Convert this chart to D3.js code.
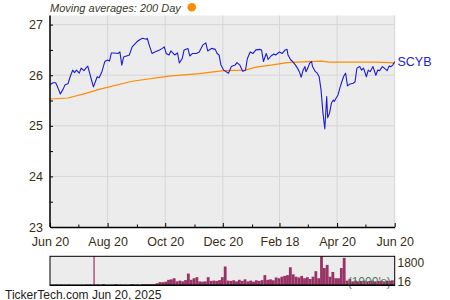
<!DOCTYPE html>
<html>
<head>
<meta charset="utf-8">
<script src="https://cdn.jsdelivr.net/npm/d3@7"></script>
<style>
  body { margin: 0; background: #fff; }
  svg { display: block; font-family: "Liberation Sans", Arial, sans-serif; }
</style>
</head>
<body>
<svg id="chart" width="450" height="300"></svg>
<script>
// price (blue line)
const priceData = [
  ["2024-06-20", 25.81], ["2024-06-23", 25.85], ["2024-06-26", 25.85], ["2024-06-28", 25.77],
  ["2024-07-01", 25.63], ["2024-07-04", 25.73], ["2024-07-06", 25.81], ["2024-07-09", 25.83],
  ["2024-07-11", 25.95], ["2024-07-14", 26.10], ["2024-07-16", 26.05], ["2024-07-18", 26.10],
  ["2024-07-21", 26.04], ["2024-07-23", 26.14], ["2024-07-26", 26.09], ["2024-07-28", 26.14],
  ["2024-07-30", 26.18], ["2024-08-01", 26.04], ["2024-08-03", 25.90], ["2024-08-05", 25.77],
  ["2024-08-07", 25.87], ["2024-08-09", 25.97], ["2024-08-11", 25.95], ["2024-08-14", 26.07],
  ["2024-08-17", 26.27], ["2024-08-20", 26.30], ["2024-08-22", 26.28], ["2024-08-24", 26.44],
  ["2024-08-27", 26.44], ["2024-08-31", 26.43], ["2024-09-02", 26.46], ["2024-09-04", 26.20],
  ["2024-09-06", 26.36], ["2024-09-09", 26.38], ["2024-09-12", 26.40], ["2024-09-15", 26.56],
  ["2024-09-20", 26.66], ["2024-09-23", 26.70], ["2024-09-26", 26.73], ["2024-09-30", 26.71],
  ["2024-10-01", 26.73], ["2024-10-03", 26.60], ["2024-10-06", 26.43], ["2024-10-09", 26.46],
  ["2024-10-14", 26.50], ["2024-10-17", 26.53], ["2024-10-19", 26.56], ["2024-10-21", 26.43],
  ["2024-10-24", 26.40], ["2024-10-26", 26.48], ["2024-10-30", 26.40], ["2024-11-02", 26.44],
  ["2024-11-04", 26.24], ["2024-11-07", 26.33], ["2024-11-09", 26.50], ["2024-11-13", 26.53],
  ["2024-11-15", 26.38], ["2024-11-18", 26.43], ["2024-11-22", 26.43], ["2024-11-25", 26.46],
  ["2024-11-29", 26.60], ["2024-12-02", 26.64], ["2024-12-04", 26.48], ["2024-12-08", 26.53],
  ["2024-12-12", 26.51], ["2024-12-14", 26.43], ["2024-12-16", 26.40], ["2024-12-18", 26.20],
  ["2024-12-21", 26.10], ["2024-12-26", 26.04], ["2024-12-29", 26.17], ["2025-01-02", 26.20],
  ["2025-01-04", 26.25], ["2025-01-07", 26.20], ["2025-01-10", 26.08], ["2025-01-13", 26.10],
  ["2025-01-15", 26.33], ["2025-01-18", 26.46], ["2025-01-21", 26.43], ["2025-01-24", 26.50],
  ["2025-01-28", 26.51], ["2025-01-30", 26.50], ["2025-02-01", 26.27], ["2025-02-04", 26.43],
  ["2025-02-06", 26.31], ["2025-02-09", 26.38], ["2025-02-12", 26.42], ["2025-02-14", 26.40],
  ["2025-02-18", 26.46], ["2025-02-21", 26.43], ["2025-02-24", 26.50], ["2025-02-26", 26.51],
  ["2025-02-27", 26.40], ["2025-03-02", 26.30], ["2025-03-04", 26.27], ["2025-03-07", 26.20],
  ["2025-03-09", 26.14], ["2025-03-11", 26.07], ["2025-03-13", 25.96], ["2025-03-15", 26.10],
  ["2025-03-17", 26.17], ["2025-03-18", 26.07], ["2025-03-20", 26.14], ["2025-03-22", 26.24],
  ["2025-03-24", 26.27], ["2025-03-25", 26.17], ["2025-03-28", 26.07], ["2025-03-30", 26.04],
  ["2025-04-01", 25.97], ["2025-04-03", 25.71], ["2025-04-05", 25.26], ["2025-04-07", 24.94],
  ["2025-04-09", 25.58], ["2025-04-10", 25.16], ["2025-04-12", 25.25], ["2025-04-14", 25.45],
  ["2025-04-16", 25.51], ["2025-04-17", 25.48], ["2025-04-19", 25.55], ["2025-04-21", 25.61],
  ["2025-04-23", 25.75], ["2025-04-25", 25.87], ["2025-04-27", 25.98], ["2025-04-29", 26.04],
  ["2025-05-01", 25.79], ["2025-05-03", 25.82], ["2025-05-07", 25.84], ["2025-05-09", 25.87],
  ["2025-05-11", 26.14], ["2025-05-14", 26.17], ["2025-05-16", 26.10], ["2025-05-18", 26.14],
  ["2025-05-21", 25.97], ["2025-05-23", 26.10], ["2025-05-25", 26.07], ["2025-05-28", 26.17],
  ["2025-05-31", 26.00], ["2025-06-02", 26.10], ["2025-06-04", 26.09], ["2025-06-07", 26.17],
  ["2025-06-09", 26.14], ["2025-06-12", 26.09], ["2025-06-14", 26.18], ["2025-06-16", 26.17],
  ["2025-06-18", 26.20], ["2025-06-20", 26.27]
];

// 200 day moving average (orange line)
const maData = [
  ["2024-06-20", 25.53], ["2024-07-09", 25.55], ["2024-07-28", 25.64], ["2024-08-11", 25.72],
  ["2024-09-15", 25.88], ["2024-10-24", 25.98], ["2024-11-25", 26.03], ["2024-12-21", 26.09],
  ["2025-01-13", 26.10], ["2025-01-24", 26.16], ["2025-02-09", 26.20], ["2025-02-26", 26.25],
  ["2025-03-09", 26.26], ["2025-04-03", 26.28], ["2025-04-12", 26.26], ["2025-05-31", 26.26],
  ["2025-06-16", 26.25], ["2025-06-20", 26.23]
];

// volume in 1000's
const volumeData = [
  ["2024-06-26", 60], ["2024-07-01", 60], ["2024-07-09", 60], ["2024-07-28", 60],
  ["2024-08-01", 60], ["2024-08-05", 1900], ["2024-08-09", 60], ["2024-08-14", 60],
  ["2024-08-16", 60], ["2024-08-27", 60], ["2024-08-29", 60], ["2024-09-02", 60],
  ["2024-09-13", 60], ["2024-09-16", 60], ["2024-09-20", 60],
  ["2024-09-25", 60], ["2024-09-28", 60], ["2024-10-01", 60], ["2024-10-04", 60],
  ["2024-10-07", 70], ["2024-10-10", 130], ["2024-10-13", 200], ["2024-10-16", 200],
  ["2024-10-19", 230], ["2024-10-22", 350], ["2024-10-25", 380], ["2024-10-28", 450],
  ["2024-10-31", 250], ["2024-11-03", 300], ["2024-11-06", 250], ["2024-11-09", 330],
  ["2024-11-12", 750], ["2024-11-15", 350], ["2024-11-18", 450], ["2024-11-21", 520],
  ["2024-11-24", 250], ["2024-11-27", 230], ["2024-11-30", 250], ["2024-12-03", 520],
  ["2024-12-06", 280], ["2024-12-09", 300], ["2024-12-12", 280], ["2024-12-15", 330],
  ["2024-12-18", 520], ["2024-12-21", 1200], ["2024-12-24", 300], ["2024-12-27", 280],
  ["2024-12-30", 320], ["2025-01-02", 250], ["2025-01-05", 350], ["2025-01-08", 280],
  ["2025-01-11", 380], ["2025-01-14", 250], ["2025-01-17", 300], ["2025-01-20", 230],
  ["2025-01-23", 320], ["2025-01-26", 280], ["2025-01-29", 330], ["2025-02-01", 650],
  ["2025-02-04", 350], ["2025-02-07", 380], ["2025-02-10", 320], ["2025-02-13", 500],
  ["2025-02-16", 450], ["2025-02-19", 550], ["2025-02-22", 600], ["2025-02-25", 650],
  ["2025-02-28", 1150], ["2025-03-03", 700], ["2025-03-06", 550], ["2025-03-09", 500],
  ["2025-03-12", 600], ["2025-03-15", 450], ["2025-03-18", 520], ["2025-03-21", 400],
  ["2025-03-24", 550], ["2025-03-27", 900], ["2025-03-30", 450], ["2025-04-02", 1900],
  ["2025-04-05", 1100], ["2025-04-08", 1300], ["2025-04-11", 550], ["2025-04-14", 850],
  ["2025-04-17", 450], ["2025-04-20", 450], ["2025-04-23", 1100], ["2025-04-26", 1750],
  ["2025-04-29", 300], ["2025-05-02", 400], ["2025-05-05", 250], ["2025-05-08", 300],
  ["2025-05-11", 250], ["2025-05-14", 280], ["2025-05-17", 300], ["2025-05-20", 250],
  ["2025-05-23", 280], ["2025-05-26", 300], ["2025-05-29", 250], ["2025-06-01", 280],
  ["2025-06-04", 300], ["2025-06-07", 250], ["2025-06-10", 300], ["2025-06-13", 280],
  ["2025-06-16", 320]
];

const xTickDates = ["2024-06-20", "2024-08-20", "2024-10-20", "2024-12-20", "2025-02-18", "2025-04-20", "2025-06-20"];
const xTickLabels = ["Jun 20", "Aug 20", "Oct 20", "Dec 20", "Feb 18", "Apr 20", "Jun 20"];
const xMinorDates = ["2024-07-20", "2024-09-20", "2024-11-20", "2025-01-20", "2025-03-20", "2025-05-20"];
const yTicks = [23, 24, 25, 26, 27];
const yMinorTicks = [23.5, 24.5, 25.5, 26.5];
const volumeLabels = ["1800", "16"];

const parse = d3.timeParse("%Y-%m-%d");
const svg = d3.select("#chart");

// main plot area
const plotLeft = 50, plotRight = 394.7, plotTop = 15.5, plotBottom = 227;
const x = d3.scaleTime()
  .domain([parse("2024-06-20"), parse("2025-06-20")])
  .range([plotLeft, plotRight]);
const y = d3.scaleLinear()
  .domain([23, 27.18])
  .range([plotBottom, plotTop]);

const tickColor = "#3a2e14";

svg.append("rect")
  .attr("x", plotLeft).attr("y", plotTop)
  .attr("width", plotRight - plotLeft).attr("height", plotBottom - plotTop)
  .attr("fill", "#ececec");

// gridlines
svg.append("g").selectAll("line")
  .data(xTickDates.map(parse))
  .enter().append("line")
  .attr("x1", d => x(d)).attr("x2", d => x(d))
  .attr("y1", plotTop).attr("y2", plotBottom)
  .attr("stroke", "#d6d6d6").attr("stroke-width", 1);

svg.append("g").selectAll("line")
  .data(yTicks.slice(1))
  .enter().append("line")
  .attr("x1", plotLeft).attr("x2", plotRight)
  .attr("y1", d => y(d)).attr("y2", d => y(d))
  .attr("stroke", "#d6d6d6").attr("stroke-width", 1);

// lines
const line = d3.line()
  .x(d => x(parse(d[0])))
  .y(d => y(d[1]));

svg.append("path")
  .datum(maData)
  .attr("d", line)
  .attr("fill", "none")
  .attr("stroke", "#ff8c00")
  .attr("stroke-width", 1.2);

svg.append("path")
  .datum(priceData)
  .attr("d", line)
  .attr("fill", "none")
  .attr("stroke", "#1c1cd6")
  .attr("stroke-width", 1.1)
  .attr("stroke-linejoin", "round");

// x axis (ticks pointing up into the plot)
svg.append("g")
  .attr("transform", `translate(0,${plotBottom})`)
  .call(d3.axisBottom(x)
    .tickValues(xTickDates.map(parse))
    .tickFormat((d, i) => xTickLabels[i])
    .tickSize(-4).tickSizeOuter(0).tickPadding(10));

svg.append("g")
  .attr("transform", `translate(0,${plotBottom})`)
  .call(d3.axisBottom(x)
    .tickValues(xMinorDates.map(parse))
    .tickFormat("")
    .tickSize(-2.5).tickSizeOuter(0))
  .select(".domain").remove();

// y axis
const yAxis = svg.append("g")
  .attr("transform", `translate(${plotLeft},0)`)
  .call(d3.axisLeft(y)
    .tickValues(yTicks)
    .tickFormat(d3.format("d"))
    .tickSize(-3).tickSizeOuter(0).tickPadding(7));

svg.append("g")
  .attr("transform", `translate(${plotLeft},0)`)
  .call(d3.axisLeft(y)
    .tickValues(yMinorTicks)
    .tickFormat("")
    .tickSize(-3).tickSizeOuter(0))
  .select(".domain").remove();

svg.selectAll(".tick line").attr("stroke", "#000");
svg.selectAll(".domain").attr("stroke", "#000").attr("stroke-width", 1.5);
svg.selectAll(".tick text")
  .attr("fill", tickColor)
  .style("font-size", "12.5px")
  .style("font-family", "'Liberation Sans', Arial, sans-serif");
yAxis.select(".domain").attr("d", `M0,${plotTop}V${plotBottom}`);

// legend / title
svg.append("text")
  .attr("x", 50).attr("y", 12)
  .attr("fill", "#3a3a2a")
  .style("font-size", "11px")
  .style("font-style", "italic")
  .text("Moving averages: 200 Day");

svg.append("circle")
  .attr("cx", 191.8).attr("cy", 7.3).attr("r", 4.3)
  .attr("fill", "#ff8c00");

// ticker label
svg.append("text")
  .attr("x", 397.5).attr("y", 65.5)
  .attr("fill", "#2222cc")
  .style("font-size", "12.5px")
  .text("SCYB");

// volume panel
const vTop = 256.3, vBottom = 285.3;
const vy = d3.scaleLinear()
  .domain([0, 1850])
  .range([vBottom, vTop])
  .clamp(true);

svg.append("rect")
  .attr("x", plotLeft).attr("y", vTop)
  .attr("width", plotRight - plotLeft).attr("height", vBottom - vTop)
  .attr("fill", "#ececec");

const barW = x(parse("2024-10-04")) - x(parse("2024-10-01"));

// isolated early bars are drawn thin, the dense run as touching bars
function barWidth(d, i) {
  const x0 = x(parse(d[0]));
  const next = volumeData[i + 1];
  const gap = next ? x(parse(next[0])) - x0 : barW;
  const w = gap > barW + 0.5 ? 1.2 : barW;
  return Math.min(w, plotRight - x0);
}

svg.append("g").selectAll("rect")
  .data(volumeData)
  .enter().append("rect")
  .attr("x", d => x(parse(d[0])))
  .attr("width", barWidth)
  .attr("y", d => vy(d[1]))
  .attr("height", d => vBottom - vy(d[1]))
  .attr("fill", "#993366");

svg.append("text")
  .attr("x", plotRight - 4).attr("y", 286)
  .attr("text-anchor", "end")
  .attr("fill", "#4e7a5e")
  .style("font-size", "12px")
  .text("(1000's)");

svg.append("rect")
  .attr("x", plotLeft).attr("y", vTop)
  .attr("width", plotRight - plotLeft).attr("height", vBottom - vTop)
  .attr("fill", "none")
  .attr("stroke", "#000").attr("stroke-width", 1);

svg.append("line")
  .attr("x1", plotLeft).attr("x2", plotRight)
  .attr("y1", vBottom).attr("y2", vBottom)
  .attr("stroke", "#000").attr("stroke-width", 1.5);

svg.selectAll(".vlabel")
  .data(volumeLabels)
  .enter().append("text")
  .attr("class", "vlabel")
  .attr("x", 397.5)
  .attr("y", (d, i) => i === 0 ? 267 : 286)
  .attr("fill", tickColor)
  .style("font-size", "12px")
  .text(d => d);

// footer
svg.append("text")
  .attr("x", 5).attr("y", 298.5)
  .attr("fill", "#222")
  .style("font-size", "12px")
  .text("TickerTech.com  Jun 20, 2025");
</script>
</body>
</html>
